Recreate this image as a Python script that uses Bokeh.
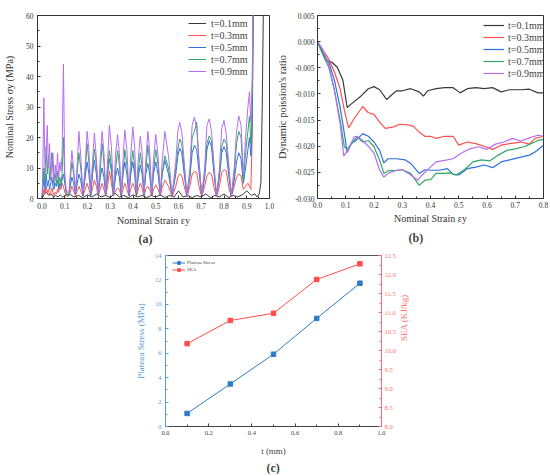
import math
from bokeh.plotting import figure
from bokeh.models import (Range1d, LinearAxis, FixedTicker, NumeralTickFormatter,
                          Legend, LegendItem, Title, Spacer)
from bokeh.layouts import column, row
from bokeh.embed import file_html
from bokeh.resources import INLINE

FONT = "Liberation Serif"

thickness_labels = ["t=0.1mm", "t=0.3mm", "t=0.5mm", "t=0.7mm", "t=0.9mm"]
series_colors = ["#3a3a3a", "#ff4f4f", "#2f6fe0", "#2ea862", "#b46ef2"]

# ---------------- (a) nominal stress vs nominal strain ----------------
strain_a_01 = [0.0, 0.01, 0.02, 0.03, 0.04, 0.05, 0.06, 0.07, 0.08, 0.09, 0.1,
               0.12, 0.14, 0.16, 0.18, 0.2, 0.22, 0.24, 0.26, 0.28, 0.3,
               0.32, 0.34, 0.36, 0.38, 0.4, 0.42, 0.44, 0.46, 0.48, 0.5,
               0.52, 0.54, 0.56, 0.58, 0.6, 0.62, 0.64, 0.66, 0.68, 0.7,
               0.72, 0.74, 0.76, 0.78, 0.8, 0.82, 0.84, 0.86, 0.88, 0.9,
               0.92, 0.935, 0.945, 0.955, 0.962, 0.968, 0.975]
stress_01 = [0, 1.5, 2, 1, 1.5, 0.5, 1, 0.5, 1.2, 0.5, 1,
             1.5, 0.5, 1, 0.3, 1.2, 0.5, 1.5, 0.5, 1, 0.3,
             1.8, 0.5, 1, 0.3, 1.2, 0.5, 1, 0.3, 1, 0.5,
             1.2, 0.3, 1, 0.5, 2.5, 0.5, 1, 0.3, 1, 0.5,
             1.5, 0.3, 1, 0.5, 1.5, 0.3, 1, 0.5, 1.2, 2.5,
             1, 1.5, 0.5, 1.5, 5, 30, 75]

strain_a = [0.0, 0.004, 0.008, 0.013, 0.018, 0.023, 0.028, 0.033, 0.038, 0.043,
            0.048, 0.053, 0.058, 0.063, 0.068, 0.073, 0.078, 0.083, 0.088, 0.094,
            0.1, 0.106, 0.112, 0.118,
            0.124, 0.131, 0.139, 0.147, 0.155,
            0.162, 0.17, 0.18, 0.19,
            0.198, 0.206, 0.214, 0.222,
            0.23, 0.239, 0.247, 0.256,
            0.264, 0.272, 0.28, 0.288,
            0.296, 0.305, 0.314, 0.323,
            0.332, 0.34, 0.348, 0.356,
            0.364, 0.373, 0.382, 0.39,
            0.399, 0.407, 0.415, 0.423,
            0.432, 0.44, 0.448, 0.456,
            0.465, 0.473, 0.482, 0.49,
            0.5, 0.51, 0.52, 0.528,
            0.54, 0.556, 0.572, 0.588,
            0.597, 0.605, 0.614, 0.625, 0.637, 0.65,
            0.66, 0.67, 0.68, 0.69, 0.702, 0.715,
            0.725, 0.735, 0.745, 0.755, 0.767, 0.78,
            0.79, 0.80, 0.81, 0.82, 0.832, 0.845,
            0.855, 0.865, 0.875, 0.885, 0.895,
            0.905, 0.912, 0.918, 0.924, 0.93]

stress_03 = [0, 1, 3, 1.5, 4, 2, 3, 1, 2, 3.5,
             2, 1, 2, 1.5, 3, 2, 4, 3, 5, 4,
             2, 1, 0.5, 1,
             2, 4, 2.5, 1, 2.5,
             4, 2.5, 0.8, 3,
             5, 3, 0.8, 3.5,
             6, 4, 0.8, 3,
             5, 3, 0.8, 4,
             9, 5, 0.8, 2.5,
             3.5, 3, 0.8, 3,
             5, 3, 0.8, 3,
             5, 3.5, 0.8, 3,
             5, 3.5, 0.8, 3,
             4, 3, 0.8, 3,
             4.5, 3, 0.8, 3.5,
             6, 4, 0.5, 4,
             7, 8, 7.5, 4, 0.5, 4,
             8, 9, 8.5, 4, 0.5, 4,
             7.5, 8.5, 8, 4, 0.5, 4,
             8.5, 9.5, 9, 4, 0.5, 4,
             7, 8, 7.5, 3, 4,
             5, 4, 3, 20, 75]

stress_05 = [0, 4, 7, 3, 8, 4, 6, 3, 5, 7,
             4, 3, 5, 4, 6, 3, 5, 4, 6, 8,
             5, 2, 1, 1,
             4, 7, 5, 1.5, 5,
             8, 6, 1, 7,
             12, 8, 1, 8,
             12.5, 8, 1, 7,
             10, 7, 1, 8,
             13, 9, 1, 7,
             10, 7, 1, 8,
             12, 8, 1, 8,
             12, 8, 1, 7,
             11, 8, 1, 8,
             11.5, 8, 1, 8,
             12, 8, 1, 8,
             12.5, 8, 0.8, 8,
             14, 16.5, 15, 8, 0.8, 7,
             15, 17.5, 16, 9, 0.8, 7,
             16, 19, 17, 9, 0.8, 7,
             15, 17, 15, 8, 0.8, 6,
             12, 15, 13, 5, 10,
             16, 20, 14, 25, 75]

stress_07 = [0, 5, 10, 6, 17, 8, 14, 6, 11, 15,
             9, 4, 8, 5, 9, 4, 7, 5, 8, 20,
             6, 2, 1, 1,
             6, 12, 8, 2, 9,
             15, 10, 1.5, 9,
             18, 12, 1.5, 10,
             16.2, 11, 1.5, 9,
             18, 12, 1.5, 8,
             15.7, 11, 1.5, 9,
             15.7, 11, 1.5, 8,
             16, 11, 1.5, 9,
             15.7, 11, 1.5, 9,
             15, 10, 1.5, 9,
             17.5, 12, 1.5, 9,
             16, 11, 1.5, 8,
             14, 10, 1, 10,
             16, 19.5, 18, 10, 1, 8,
             20, 22, 25, 12, 1, 8,
             18, 20.5, 19, 10, 1, 8,
             17, 19.5, 18, 10, 1, 8,
             18, 22, 20, 6, 15,
             22, 27, 18, 30, 75]

stress_09 = [0, 12, 33, 8, 14, 24, 10, 18, 6, 12,
             15, 5, 11, 7, 15, 6, 12, 9, 14, 44,
             8, 3, 2, 1.5,
             8, 15.7, 10, 2, 12,
             22, 14, 1.5, 11,
             22, 16, 1.5, 12,
             21.5, 13, 1.5, 13,
             22, 15, 1.5, 12,
             24, 17, 2, 14,
             21, 15, 1.5, 13,
             22.5, 16, 1.5, 14,
             23.5, 17, 2, 13,
             20.4, 15, 1.5, 12,
             22, 16, 1.5, 13,
             21, 14, 1.5, 12,
             22, 14, 1, 12,
             22, 25, 22, 12, 1, 10,
             24, 26.7, 23, 12, 1, 10,
             24, 26.1, 22, 12, 1, 10,
             23, 25.6, 21, 12, 1, 10,
             22, 27, 24, 8, 20,
             30, 35, 25, 40, 75]

ticks_a_x = [0.0, 0.1, 0.2, 0.3, 0.4, 0.5, 0.6, 0.7, 0.8, 0.9, 1.0]
ticks_a_y = [0, 10, 20, 30, 40, 50, 60]

# ---------------- (b) dynamic poisson's ratio ----------------
strain_b_01 = [0.0, 0.03, 0.05, 0.07, 0.09, 0.105, 0.12, 0.15, 0.18, 0.2, 0.22, 0.245,
               0.26, 0.28, 0.3, 0.33, 0.36, 0.375, 0.39, 0.42, 0.45, 0.48, 0.505, 0.53,
               0.56, 0.59, 0.62, 0.65, 0.68, 0.72, 0.75, 0.78, 0.8]
poisson_01 = [0.0, -0.0036, -0.0039, -0.0049, -0.0074, -0.0126, -0.0119, -0.0106, -0.009,
              -0.0086, -0.0092, -0.0111, -0.0103, -0.0094, -0.0094, -0.009, -0.0096, -0.0104,
              -0.0094, -0.009, -0.0088, -0.0088, -0.0098, -0.009, -0.0088, -0.009, -0.0088,
              -0.0096, -0.0092, -0.0092, -0.0091, -0.0098, -0.0098]
strain_b_03 = [0.0, 0.02, 0.04, 0.06, 0.08, 0.095, 0.11, 0.13, 0.16, 0.18, 0.2, 0.22, 0.24,
               0.27, 0.29, 0.32, 0.34, 0.36, 0.38, 0.4, 0.42, 0.45, 0.48, 0.5, 0.53, 0.56,
               0.59, 0.62, 0.65, 0.68, 0.72, 0.75, 0.77, 0.8]
poisson_03 = [0.0, -0.0017, -0.0033, -0.0058, -0.009, -0.0131, -0.0165, -0.0147, -0.0124,
              -0.0136, -0.0139, -0.0154, -0.0166, -0.0163, -0.0158, -0.0159, -0.0162, -0.0173,
              -0.0181, -0.0181, -0.0185, -0.0181, -0.0181, -0.0198, -0.0192, -0.0195, -0.02,
              -0.0206, -0.0198, -0.0195, -0.0192, -0.0196, -0.0185, -0.0181]
strain_b_05 = [0.0, 0.02, 0.04, 0.06, 0.08, 0.095, 0.105, 0.12, 0.14, 0.16, 0.18, 0.2, 0.22,
               0.235, 0.25, 0.28, 0.31, 0.33, 0.36, 0.38, 0.4, 0.43, 0.46, 0.48, 0.5, 0.53,
               0.56, 0.59, 0.62, 0.65, 0.68, 0.72, 0.75, 0.77, 0.8]
poisson_05 = [0.0, -0.0023, -0.0039, -0.0074, -0.0125, -0.0176, -0.0212, -0.0195, -0.0187,
              -0.0176, -0.0181, -0.0192, -0.0208, -0.0232, -0.0224, -0.0224, -0.0226, -0.0233,
              -0.0252, -0.0245, -0.0246, -0.0246, -0.0243, -0.0254, -0.0255, -0.0243, -0.024,
              -0.0236, -0.0241, -0.023, -0.0226, -0.0221, -0.0217, -0.0211, -0.0198]
strain_b_07 = [0.0, 0.02, 0.04, 0.06, 0.08, 0.095, 0.105, 0.12, 0.14, 0.16, 0.18, 0.2, 0.22,
               0.235, 0.25, 0.28, 0.3, 0.33, 0.36, 0.38, 0.4, 0.42, 0.45, 0.47, 0.49, 0.52,
               0.55, 0.58, 0.61, 0.64, 0.67, 0.7, 0.73, 0.76, 0.78, 0.8]
poisson_07 = [0.0, -0.0026, -0.0049, -0.0093, -0.015, -0.0201, -0.0206, -0.0195, -0.0182,
              -0.0192, -0.0189, -0.0201, -0.0227, -0.0252, -0.0247, -0.0246, -0.0245, -0.0252,
              -0.0275, -0.0265, -0.0264, -0.0252, -0.0252, -0.0251, -0.0255, -0.0245, -0.023,
              -0.0226, -0.0228, -0.0217, -0.0208, -0.0205, -0.0201, -0.0194, -0.0189, -0.0187]
strain_b_09 = [0.0, 0.02, 0.04, 0.06, 0.08, 0.093, 0.11, 0.13, 0.14, 0.16, 0.18, 0.2, 0.22,
               0.235, 0.25, 0.28, 0.3, 0.33, 0.355, 0.37, 0.4, 0.42, 0.45, 0.48, 0.51, 0.54,
               0.57, 0.6, 0.63, 0.66, 0.69, 0.72, 0.75, 0.78, 0.8]
poisson_09 = [0.0, -0.0016, -0.0045, -0.0093, -0.0157, -0.0219, -0.0205, -0.0182, -0.0181,
              -0.0189, -0.02, -0.0213, -0.0246, -0.0259, -0.0252, -0.0246, -0.0245, -0.0255,
              -0.0265, -0.0255, -0.024, -0.023, -0.0227, -0.0224, -0.0213, -0.0205, -0.0201,
              -0.0206, -0.0196, -0.0192, -0.0185, -0.019, -0.0184, -0.0179, -0.0181]

ticks_b_x = [0.0, 0.1, 0.2, 0.3, 0.4, 0.5, 0.6, 0.7, 0.8]
ticks_b_y = [0.005, 0.0, -0.005, -0.010, -0.015, -0.020, -0.025, -0.030]

# ---------------- (c) plateau stress and SEA ----------------
thickness_mm = [0.1, 0.3, 0.5, 0.7, 0.9]
plateau_stress = [1.07, 3.48, 5.92, 8.85, 11.73]
sea = [10.18, 10.79, 10.98, 11.87, 12.28]
ticks_c_x = [0.0, 0.2, 0.4, 0.6, 0.8, 1.0]
ticks_c_left = [0, 2, 4, 6, 8, 10, 12, 14]
ticks_c_right = [8.0, 8.5, 9.0, 9.5, 10.0, 10.5, 11.0, 11.5, 12.0, 12.5]

C_BLUE = "#2f7cc4"
C_BLUE_AX = "#5a9ad6"
C_RED = "#ff4d4d"
C_RED_AX = "#ff6e6e"

for xs, ys in [(strain_a_01, stress_01), (strain_a, stress_03), (strain_a, stress_05),
               (strain_a, stress_07), (strain_a, stress_09), (strain_b_01, poisson_01),
               (strain_b_03, poisson_03), (strain_b_05, poisson_05),
               (strain_b_07, poisson_07), (strain_b_09, poisson_09)]:
    assert len(xs) == len(ys), (len(xs), len(ys))


def minor_between(ticks):
    return [(a + b) / 2 for a, b in zip(ticks[:-1], ticks[1:])]


def style_axis(ax, tick_size, title_size, color="#333333", label_standoff=3, title_standoff=2):
    ax.major_label_text_font = FONT
    ax.major_label_text_font_size = tick_size
    ax.major_label_text_color = color
    ax.axis_label_text_font = FONT
    ax.axis_label_text_font_size = title_size
    ax.axis_label_text_font_style = "normal"
    ax.axis_label_text_color = color
    ax.major_tick_in = 3
    ax.major_tick_out = 0
    ax.minor_tick_in = 2
    ax.minor_tick_out = 0
    ax.axis_line_color = color
    ax.major_tick_line_color = color
    ax.minor_tick_line_color = color
    ax.major_label_standoff = label_standoff
    ax.axis_label_standoff = title_standoff


def legend_for(p, renderers, labels, loc, font_size, glyph_w, row_h, standoff):
    items = [LegendItem(label=l, renderers=r if isinstance(r, list) else [r])
             for l, r in zip(labels, renderers)]
    leg = Legend(items=items, location=loc, background_fill_alpha=0,
                 border_line_color=None, padding=0, spacing=0, margin=0,
                 label_text_font=FONT, label_text_font_size=font_size,
                 glyph_width=glyph_w, glyph_height=row_h, label_height=row_h,
                 label_standoff=standoff)
    p.add_layout(leg)


def panel_tag(p, text, offset, standoff):
    p.add_layout(Title(text=text, align="left", offset=offset, text_font=FONT,
                       text_font_size="12px", text_font_style="bold", standoff=standoff), "below")


# ---- figure (a)
pa = figure(width=274, height=250, x_range=Range1d(-0.02, 1.0), y_range=Range1d(0, 60),
            output_backend="svg", toolbar_location=None,
            min_border_left=31, min_border_right=5, min_border_top=10, min_border_bottom=48)
pa.grid.visible = False
pa.outline_line_color = "#333333"
pa.xaxis.ticker = FixedTicker(ticks=ticks_a_x, minor_ticks=minor_between(ticks_a_x))
pa.yaxis.ticker = FixedTicker(ticks=ticks_a_y, minor_ticks=minor_between(ticks_a_y))
pa.xaxis.formatter = NumeralTickFormatter(format="0.0")
pa.xaxis.axis_label = "Nominal Strain εy"
pa.yaxis.axis_label = "Nominal Stress σy (MPa)"
style_axis(pa.xaxis[0], "7.5px", "10px", label_standoff=4, title_standoff=3)
style_axis(pa.yaxis[0], "7.5px", "10px", label_standoff=4, title_standoff=8)

a_series = [(strain_a_01, stress_01), (strain_a, stress_03), (strain_a, stress_05),
            (strain_a, stress_07), (strain_a, stress_09)]
ra = []
for (xs, ys), c in zip(a_series, series_colors):
    ra.append(pa.line(xs, ys, line_color=c, line_width=1.0))
legend_for(pa, ra, thickness_labels, (151, 121), "10px", 18, 12, 5)
panel_tag(pa, "(a)", 101, 3)

# ---- figure (b)
pb = figure(width=274, height=250, x_range=Range1d(0, 0.8), y_range=Range1d(-0.030, 0.005),
            output_backend="svg", toolbar_location=None,
            min_border_left=39, min_border_right=5, min_border_top=15, min_border_bottom=52)
pb.grid.visible = False
pb.outline_line_color = "#333333"
pb.xaxis.ticker = FixedTicker(ticks=ticks_b_x, minor_ticks=minor_between(ticks_b_x))
pb.yaxis.ticker = FixedTicker(ticks=ticks_b_y, minor_ticks=minor_between(ticks_b_y))
pb.xaxis.formatter = NumeralTickFormatter(format="0.0")
pb.yaxis.formatter = NumeralTickFormatter(format="0.000")
pb.xaxis.axis_label = "Nominal Strain εy"
pb.yaxis.axis_label = "Dynamic poission's ratio"
style_axis(pb.xaxis[0], "7.5px", "10px", label_standoff=3, title_standoff=2)
style_axis(pb.yaxis[0], "7.5px", "10.5px", label_standoff=3, title_standoff=4)

b_series = [(strain_b_01, poisson_01), (strain_b_03, poisson_03), (strain_b_05, poisson_05),
            (strain_b_07, poisson_07), (strain_b_09, poisson_09)]
rb = []
for (xs, ys), c in zip(b_series, series_colors):
    rb.append(pb.line(xs, ys, line_color=c, line_width=1.2))
legend_for(pb, rb, thickness_labels, (166, 119), "10px", 21, 12, 4)
panel_tag(pb, "(b)", 91, 4)

# ---- figure (c)
pc = figure(width=290, height=224, x_range=Range1d(0, 1.0), y_range=Range1d(0, 14),
            output_backend="svg", toolbar_location=None,
            min_border_left=35, min_border_right=39, min_border_top=5, min_border_bottom=44)
pc.extra_y_ranges = {"sea": Range1d(8.0, 12.5)}
pc.grid.visible = False
pc.outline_line_color = "#555555"
pc.xaxis.ticker = FixedTicker(ticks=ticks_c_x, minor_ticks=minor_between(ticks_c_x))
pc.yaxis.ticker = FixedTicker(ticks=ticks_c_left, minor_ticks=minor_between(ticks_c_left))
pc.xaxis.formatter = NumeralTickFormatter(format="0.0")
pc.xaxis.axis_label = "t (mm)"
pc.yaxis.axis_label = "Plateau Stress (MPa)"
style_axis(pc.xaxis[0], "6.5px", "9px", color="#444444", label_standoff=4, title_standoff=8)
style_axis(pc.yaxis[0], "6.5px", "9px", color=C_BLUE_AX, label_standoff=4, title_standoff=6)
right_ax = LinearAxis(y_range_name="sea", axis_label="SEA (KJ/kg)",
                      ticker=FixedTicker(ticks=ticks_c_right, minor_ticks=minor_between(ticks_c_right)),
                      formatter=NumeralTickFormatter(format="0.0"))
style_axis(right_ax, "6.5px", "9px", color=C_RED_AX, label_standoff=3, title_standoff=5)
right_ax.axis_label_orientation = math.pi / 2
pc.add_layout(right_ax, "right")

l1 = pc.line(thickness_mm, plateau_stress, line_color=C_BLUE, line_width=1.0)
s1 = pc.scatter(thickness_mm, plateau_stress, marker="square", size=4.5,
                fill_color=C_BLUE, line_color=C_BLUE)
l2 = pc.line(thickness_mm, sea, line_color=C_RED, line_width=1.0, y_range_name="sea")
s2 = pc.scatter(thickness_mm, sea, marker="square", size=4.5, fill_color=C_RED,
                line_color=C_RED, y_range_name="sea")
legend_for(pc, [[l1, s1], [l2, s2]], ["Plateau Stress", "SEA"], (7, 153), "5px", 13, 7, 2)
panel_tag(pc, "(c)", 101, 0)

layout = column(row(pa, pb), row(Spacer(width=130, height=224), pc))
open("out.html", "w").write(file_html(layout, INLINE))
